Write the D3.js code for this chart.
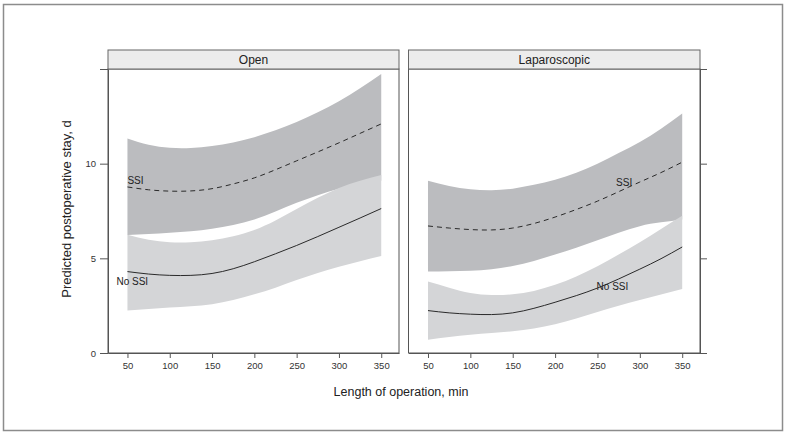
<!DOCTYPE html>
<html>
<head>
<meta charset="utf-8">
<script src="https://cdn.jsdelivr.net/npm/d3@7"></script>
<style>
  html, body { margin: 0; padding: 0; background: #fff; }
  svg { display: block; font-family: "Liberation Sans", Arial, Helvetica, sans-serif; }
</style>
</head>
<body>
<svg id="chart" width="786" height="435"></svg>
<script>
// ---------- data ----------
const panels = ["Open", "Laparoscopic"];
const minutes = [50, 75, 100, 125, 150, 175, 200, 225, 250, 275, 300, 325, 350];
const xTicks = [50, 100, 150, 200, 250, 300, 350];
const yTicks = [0, 5, 10, 15];
const yTickLabels = ["0", "5", "10", ""];

// Open
const openSSIUpper   = [11.33, 11.0, 10.84, 10.83, 10.93, 11.12, 11.4, 11.76, 12.2, 12.72, 13.3, 13.98, 14.74];
const openSSI        = [8.77, 8.62, 8.55, 8.56, 8.68, 8.93, 9.25, 9.68, 10.15, 10.62, 11.1, 11.6, 12.1];
const openSSILower   = [6.23, 6.28, 6.35, 6.43, 6.56, 6.76, 7.05, 7.47, 7.93, 8.33, 8.68, 8.9, 9.1];
const openNoSSIUpper = [6.25, 5.98, 5.85, 5.85, 5.95, 6.17, 6.5, 7.0, 7.6, 8.2, 8.72, 9.1, 9.4];
const openNoSSI      = [4.3, 4.17, 4.1, 4.1, 4.2, 4.45, 4.82, 5.24, 5.68, 6.15, 6.64, 7.13, 7.63];
const openNoSSILower = [2.25, 2.33, 2.4, 2.47, 2.58, 2.8, 3.1, 3.45, 3.85, 4.22, 4.55, 4.85, 5.12];

// Laparoscopic
const lapSSIUpper   = [9.1, 8.82, 8.65, 8.6, 8.68, 8.88, 9.15, 9.52, 10.0, 10.56, 11.15, 11.85, 12.65];
const lapSSI        = [6.71, 6.6, 6.52, 6.5, 6.6, 6.84, 7.18, 7.58, 8.02, 8.52, 9.03, 9.53, 10.08];
const lapSSILower   = [4.3, 4.32, 4.35, 4.43, 4.6, 4.86, 5.2, 5.56, 5.95, 6.35, 6.7, 6.9, 7.05];
const lapNoSSIUpper = [3.77, 3.45, 3.17, 3.06, 3.1, 3.28, 3.6, 4.04, 4.58, 5.2, 5.85, 6.55, 7.25];
const lapNoSSI      = [2.24, 2.12, 2.05, 2.03, 2.12, 2.36, 2.68, 3.03, 3.43, 3.91, 4.43, 4.98, 5.6];
const lapNoSSILower = [0.7, 0.85, 0.97, 1.06, 1.15, 1.3, 1.52, 1.82, 2.17, 2.5, 2.8, 3.09, 3.38];

const seriesLabels = ["SSI", "No SSI"];

// ---------- layout ----------
const svg = d3.select("#chart");
const plotTop = 69, plotBottom = 353;
const stripTop = 50;
const panelRanges = [[108, 399], [408.5, 700]];
const xDomain = [27, 371];

const y = d3.scaleLinear().domain([0, 15]).range([plotBottom, plotTop]);

const panelData = [
  { name: panels[0], ssiU: openSSIUpper, ssi: openSSI, ssiL: openSSILower, nU: openNoSSIUpper, n: openNoSSI, nL: openNoSSILower,
    ssiLab: { m: 50, v: 8.95 }, nLab: { m: 37, v: 3.6 } },
  { name: panels[1], ssiU: lapSSIUpper, ssi: lapSSI, ssiL: lapSSILower, nU: lapNoSSIUpper, n: lapNoSSI, nL: lapNoSSILower,
    ssiLab: { m: 272, v: 8.8 }, nLab: { m: 249, v: 3.33 } }
];

// outer frame
svg.append("rect").attr("x", 3.5).attr("y", 4.5).attr("width", 779).attr("height", 426)
  .attr("fill", "none").attr("stroke", "#8c8c8c").attr("stroke-width", 1.5);

const darkFill = "#bbbcbf", lightFill = "#d4d5d7";
const curve = d3.curveNatural;

panelData.forEach((p, i) => {
  const [x0, x1] = panelRanges[i];
  const x = d3.scaleLinear().domain(xDomain).range([x0, x1]);
  const g = svg.append("g");

  const area = (up, lo) => d3.area()
    .x((d, k) => x(minutes[k]))
    .y0((d, k) => y(lo[k]))
    .y1((d, k) => y(up[k]))
    .curve(curve)(minutes);
  const line = (vals) => d3.line()
    .x((d, k) => x(minutes[k]))
    .y((d, k) => y(vals[k]))
    .curve(curve)(minutes);

  g.append("path").attr("d", area(p.ssiU, p.ssiL)).attr("fill", darkFill);
  g.append("path").attr("d", area(p.nU, p.nL)).attr("fill", lightFill);
  g.append("path").attr("d", line(p.ssi)).attr("fill", "none").attr("stroke", "#2a2a2a")
    .attr("stroke-width", 1).attr("stroke-dasharray", "5,4");
  g.append("path").attr("d", line(p.n)).attr("fill", "none").attr("stroke", "#2a2a2a").attr("stroke-width", 1);

  // series labels
  g.append("text").attr("x", x(p.ssiLab.m)).attr("y", y(p.ssiLab.v)).text(seriesLabels[0])
    .attr("font-size", 10).attr("fill", "#222");
  g.append("text").attr("x", x(p.nLab.m)).attr("y", y(p.nLab.v)).text(seriesLabels[1])
    .attr("font-size", 10).attr("fill", "#222");

  // panel frame
  g.append("rect").attr("x", x0).attr("y", plotTop).attr("width", x1 - x0).attr("height", plotBottom - plotTop)
    .attr("fill", "none").attr("stroke", "#555").attr("stroke-width", 1);

  // strip
  g.append("rect").attr("x", x0).attr("y", stripTop).attr("width", x1 - x0).attr("height", plotTop - stripTop)
    .attr("fill", "#ececec").attr("stroke", "#666").attr("stroke-width", 1);
  g.append("text").attr("x", (x0 + x1) / 2).attr("y", (stripTop + plotTop) / 2 + 4.3)
    .attr("text-anchor", "middle").attr("font-size", 12).attr("fill", "#222").text(p.name);

  // x axis
  const xa = g.append("g").attr("transform", `translate(0,${plotBottom})`)
    .call(d3.axisBottom(x).tickValues(xTicks).tickSize(5).tickSizeOuter(0).tickPadding(4));
  xa.select(".domain").attr("stroke", "#555");
  xa.selectAll(".tick line").attr("stroke", "#555");
  xa.selectAll("text").attr("font-size", 9.5).attr("fill", "#333")
    .attr("font-family", "'Liberation Sans', Arial, sans-serif");

  // y axis
  if (i === 0) {
    const ya = g.append("g").attr("transform", `translate(${x0},0)`)
      .call(d3.axisLeft(y).tickValues(yTicks).tickSize(8).tickSizeOuter(0).tickPadding(4)
        .tickFormat((d, k) => yTickLabels[k]));
    ya.select(".domain").attr("stroke", "#555");
    ya.selectAll(".tick line").attr("stroke", "#555");
    ya.selectAll("text").attr("font-size", 9.5).attr("fill", "#333")
      .attr("font-family", "'Liberation Sans', Arial, sans-serif");
  } else {
    const ya = g.append("g").attr("transform", `translate(${x1},0)`)
      .call(d3.axisRight(y).tickValues(yTicks).tickSize(7).tickSizeOuter(0).tickFormat(""));
    ya.select(".domain").attr("stroke", "#555");
    ya.selectAll(".tick line").attr("stroke", "#555");
  }
});

// axis titles
svg.append("text").attr("x", 401).attr("y", 396).attr("text-anchor", "middle")
  .attr("font-size", 12.5).attr("fill", "#222").text("Length of operation, min");
svg.append("text").attr("transform", `translate(71,${(plotTop + plotBottom) / 2 - 2}) rotate(-90)`)
  .attr("text-anchor", "middle").attr("font-size", 13).attr("fill", "#222")
  .text("Predicted postoperative stay, d");
</script>
</body>
</html>
